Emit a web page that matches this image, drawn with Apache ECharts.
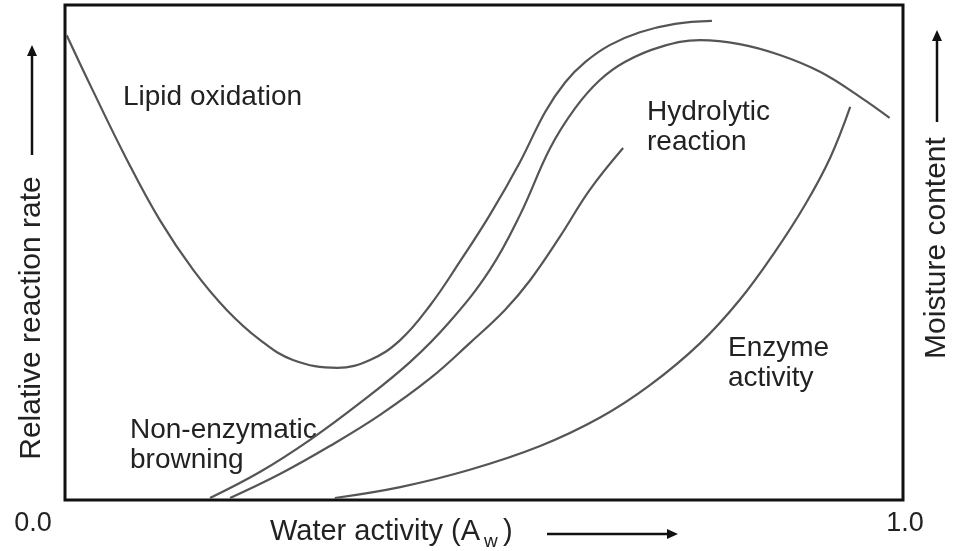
<!DOCTYPE html>
<html lang="en">
<head>
    <meta charset="UTF-8">
    <title>Water activity stability map</title>
    <script src="https://cdn.jsdelivr.net/npm/echarts@6/dist/echarts.min.js"></script>
    <style>
        html, body { margin: 0; padding: 0; background: #fff; }
    </style>
</head>
<body>
    <div id="main" style="width: 955px;height:551px;"></div>

    <script type="text/javascript">
        // curve points: [water activity, relative rate (0-100)]
        var lipidOxidation = [
            [0.002, 93.9], [0.033, 82.8], [0.074, 68.7], [0.113, 56.6], [0.153, 46.5],
            [0.193, 38.4], [0.233, 32.3], [0.272, 28.3], [0.325, 26.7], [0.364, 28.3],
            [0.400, 32.3], [0.436, 39.4], [0.471, 48.1], [0.507, 57.6], [0.543, 68.3],
            [0.573, 78.4], [0.597, 84.4], [0.621, 88.5], [0.650, 91.9], [0.686, 94.5],
            [0.728, 96.2], [0.772, 96.8]
        ];
        var browning = [
            [0.173, 0.4], [0.233, 5.7], [0.292, 12.1], [0.352, 19.6], [0.412, 27.9],
            [0.459, 36.0], [0.507, 46.5], [0.543, 57.6], [0.579, 71.1], [0.609, 79.2],
            [0.638, 84.8], [0.668, 88.5], [0.710, 91.5], [0.758, 92.9], [0.805, 92.1],
            [0.853, 89.9], [0.901, 86.5], [0.949, 81.4], [0.984, 77.2]
        ];
        var hydrolytic = [
            [0.197, 0.4], [0.257, 5.3], [0.316, 10.9], [0.376, 17.2], [0.436, 24.6],
            [0.483, 31.7], [0.525, 38.4], [0.555, 44.4], [0.591, 53.3], [0.626, 62.6],
            [0.666, 71.1]
        ];
        var enzymeActivity = [
            [0.322, 0.4], [0.400, 2.6], [0.483, 6.1], [0.567, 10.9], [0.638, 16.6],
            [0.698, 23.2], [0.758, 31.7], [0.805, 40.4], [0.847, 50.1], [0.883, 59.6],
            [0.913, 69.1], [0.937, 79.4]
        ];
        var xTickLabels = ['0.0', '1.0'];

        var myChart = echarts.init(document.getElementById('main'));

        var FONT = '"Liberation Sans", Arial, sans-serif';
        var TXT = '#222';
        var LINE = '#555';

        function curve(name, data) {
            return {
                name: name,
                type: 'line',
                data: data,
                smooth: 0.4,
                symbol: 'none',
                lineStyle: { color: LINE, width: 2.2 },
                silent: true
            };
        }

        function label(text, x, y, size, rot) {
            return {
                type: 'text',
                x: x,
                y: y,
                rotation: rot || 0,
                style: {
                    text: text,
                    font: size + 'px ' + FONT,
                    fill: TXT,
                    lineHeight: 30,
                    align: rot ? 'center' : 'left',
                    verticalAlign: 'middle'
                }
            };
        }

        function arrow(x1, y1, x2, y2) {
            // shaft plus a small head at (x2, y2)
            var ang = Math.atan2(y2 - y1, x2 - x1);
            var len = 11, half = 5;
            var bx = x2 - len * Math.cos(ang), by = y2 - len * Math.sin(ang);
            return [{
                type: 'line',
                shape: { x1: x1, y1: y1, x2: bx, y2: by },
                style: { stroke: '#111', lineWidth: 2.5 }
            }, {
                type: 'polygon',
                shape: {
                    points: [
                        [x2, y2],
                        [bx - half * Math.sin(ang), by + half * Math.cos(ang)],
                        [bx + half * Math.sin(ang), by - half * Math.cos(ang)]
                    ]
                },
                style: { fill: '#111' }
            }];
        }

        var graphics = [
            label('Lipid oxidation', 123, 97, 28),
            label('Hydrolytic\nreaction', 647, 127, 28),
            label('Non-enzymatic\nbrowning', 130, 445, 28),
            label('Enzyme\nactivity', 728, 363, 28),
            { type: 'text', x: 33, y: 524, style: { text: xTickLabels[0], font: '27px ' + FONT, fill: TXT, align: 'center', verticalAlign: 'middle' } },
            { type: 'text', x: 905, y: 524, style: { text: xTickLabels[1], font: '27px ' + FONT, fill: TXT, align: 'center', verticalAlign: 'middle' } },
            label('Water activity (A', 270, 532, 29),
            label('w', 484, 542, 19),
            label(')', 503, 532, 29),
            label('Relative reaction rate', 32, 318, 30, Math.PI / 2),
            label('Moisture content', 937, 248, 30, Math.PI / 2)
        ];
        graphics = graphics
            .concat(arrow(547, 534, 678, 534))
            .concat(arrow(32, 155, 32, 45))
            .concat(arrow(937, 122, 937, 30));

        var option = {
            animation: false,
            grid: {
                left: 65,
                top: 5,
                width: 838,
                height: 495,
                show: true,
                borderColor: '#111',
                borderWidth: 3,
                backgroundColor: '#fff'
            },
            xAxis: {
                type: 'value',
                min: 0,
                max: 1,
                axisLine: { show: false },
                axisTick: { show: false },
                axisLabel: { show: false },
                splitLine: { show: false }
            },
            yAxis: {
                type: 'value',
                min: 0,
                max: 100,
                axisLine: { show: false },
                axisTick: { show: false },
                axisLabel: { show: false },
                splitLine: { show: false }
            },
            series: [
                curve('Lipid oxidation', lipidOxidation),
                curve('Non-enzymatic browning', browning),
                curve('Hydrolytic reaction', hydrolytic),
                curve('Enzyme activity', enzymeActivity)
            ],
            graphic: graphics
        };

        myChart.setOption(option);
    </script>
</body>
</html>
